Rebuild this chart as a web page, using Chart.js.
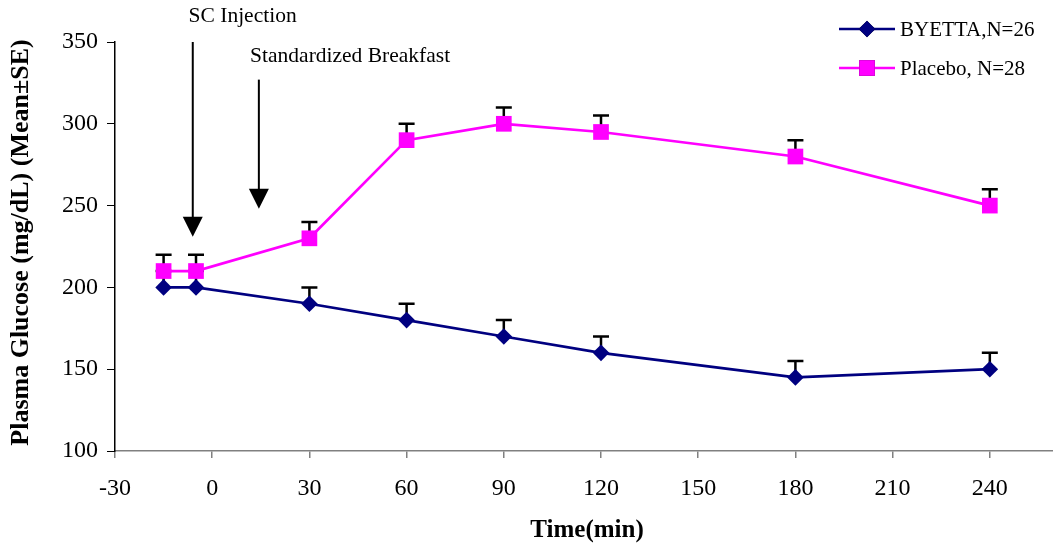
<!DOCTYPE html>
<html>
<head>
<meta charset="utf-8">
<script src="https://cdn.jsdelivr.net/npm/chart.js@4.4.1/dist/chart.umd.min.js"></script>
<style>
  html, body { margin: 0; padding: 0; background: #fff; overflow: hidden; }
  #wrap { width: 1053px; height: 546px; position: relative; }
</style>
</head>
<body>
<div id="wrap"><canvas id="chart"></canvas></div>
<script>
// Datos
const times = [-15, -5, 30, 60, 90, 120, 180, 240];
const byettaMean = [200, 200, 190, 180, 170, 160, 145, 150];
const byettaSE = [10, 10, 10, 10, 10, 10, 10, 10];
const placeboMean = [210, 210, 230, 290, 300, 295, 280, 250];
const placeboSE = [10, 10, 10, 10, 10, 10, 10, 10];
const xTicks = [-30, 0, 30, 60, 90, 120, 150, 180, 210, 240];
const yTicks = [100, 150, 200, 250, 300, 350];
const seriesLabels = ['BYETTA,N=26', 'Placebo, N=28'];

// Anotaciones (en unidades de los ejes)
const injection = { text: 'SC Injection', x: -6, yFrom: 350, yTo: 231, textX: -7.3, textY: 365.5 };
const breakfast = { text: 'Standardized Breakfast', x: 14.4, yFrom: 327, yTo: 248, textX: 11.7, textY: 341 };

const FONT = '"Liberation Serif", "Times New Roman", serif';

function toPoints(xs, ys) {
  return xs.map((x, i) => ({ x: x, y: ys[i] }));
}

// Barras de error (solo hacia arriba) y flechas
const extrasPlugin = {
  id: 'extras',
  beforeDatasetsDraw(chart) {
    const { ctx, scales: { x, y } } = chart;
    const sets = [[byettaMean, byettaSE], [placeboMean, placeboSE]];
    ctx.save();
    ctx.strokeStyle = '#000';
    ctx.lineWidth = 2.5;
    sets.forEach(([means, ses]) => {
      times.forEach((t, i) => {
        const px = x.getPixelForValue(t);
        const y0 = y.getPixelForValue(means[i]);
        const y1 = y.getPixelForValue(means[i] + ses[i]);
        ctx.beginPath();
        ctx.moveTo(px, y0);
        ctx.lineTo(px, y1);
        ctx.moveTo(px - 8, y1);
        ctx.lineTo(px + 8, y1);
        ctx.stroke();
      });
    });
    ctx.restore();
  },
  afterDraw(chart) {
    const { ctx, scales: { x, y }, chartArea } = chart;
    ctx.save();
    // flechas
    [injection, breakfast].forEach(a => {
      const px = x.getPixelForValue(a.x);
      const top = y.getPixelForValue(a.yFrom);
      const tip = y.getPixelForValue(a.yTo);
      ctx.strokeStyle = '#000';
      ctx.fillStyle = '#000';
      ctx.lineWidth = 2;
      ctx.beginPath();
      ctx.moveTo(px, top);
      ctx.lineTo(px, tip - 18);
      ctx.stroke();
      ctx.beginPath();
      ctx.moveTo(px - 10, tip - 20);
      ctx.lineTo(px + 10, tip - 20);
      ctx.lineTo(px, tip);
      ctx.closePath();
      ctx.fill();
      ctx.font = '21.5px ' + FONT;
      ctx.textAlign = 'left';
      ctx.textBaseline = 'middle';
      ctx.fillText(a.text, x.getPixelForValue(a.textX), y.getPixelForValue(a.textY));
    });

    // leyenda
    const ds = chart.data.datasets;
    ds.forEach((d, i) => {
      const ly = 29 + i * 39;
      ctx.strokeStyle = d.borderColor;
      ctx.lineWidth = 2.5;
      ctx.beginPath();
      ctx.moveTo(839, ly);
      ctx.lineTo(895, ly);
      ctx.stroke();
      Chart.helpers.drawPoint(ctx, {
        pointStyle: d.pointStyle, radius: d.pointRadius, borderWidth: 0
      }, 867, ly);
      ctx.fillStyle = d.backgroundColor;
      ctx.fill();
      ctx.fillStyle = '#000';
      ctx.font = '21px ' + FONT;
      ctx.textAlign = 'left';
      ctx.textBaseline = 'middle';
      ctx.fillText(d.label, 900, ly + 1);
    });

    // títulos de ejes
    ctx.fillStyle = '#000';
    ctx.textAlign = 'center';
    ctx.textBaseline = 'middle';
    ctx.font = 'bold 25px ' + FONT;
    ctx.fillText('Time(min)', (chartArea.left + chartArea.right) / 2 + 3, 531);
    ctx.font = 'bold 26px ' + FONT;
    ctx.translate(21, (chartArea.top + chartArea.bottom) / 2 - 4);
    ctx.rotate(-Math.PI / 2);
    ctx.fillText('Plasma Glucose (mg/dL) (Mean\u00B1SE)', 0, 0);
    ctx.restore();
  }
};

const chart = new Chart(document.getElementById('chart'), {
  type: 'line',
  data: {
    datasets: [{
      label: seriesLabels[0],
      data: toPoints(times, byettaMean),
      borderColor: '#000080',
      backgroundColor: '#000080',
      borderWidth: 2.7,
      pointStyle: 'rectRot',
      pointRadius: 8.3,
      pointBorderWidth: 0,
      pointHoverRadius: 8.3,
      tension: 0
    }, {
      label: seriesLabels[1],
      data: toPoints(times, placeboMean),
      borderColor: '#FF00FF',
      backgroundColor: '#FF00FF',
      borderWidth: 2.7,
      pointStyle: 'rect',
      pointRadius: 11.1,
      pointBorderWidth: 0,
      pointHoverRadius: 11.1,
      tension: 0
    }]
  },
  options: {
    responsive: true,
    maintainAspectRatio: false,
    animation: false,
    layout: { autoPadding: false, padding: { top: 42, right: 0, left: 0, bottom: 0 } },
    plugins: {
      legend: { display: false },
      tooltip: { enabled: false }
    },
    scales: {
      x: {
        type: 'linear',
        min: -30,
        max: 259.5,
        afterFit(scale) {
          scale.height = 95;
          scale.paddingLeft = 0;
          scale.paddingRight = 0;
        },
        afterBuildTicks(scale) { scale.ticks = xTicks.map(v => ({ value: v })); },
        ticks: {
          color: '#000',
          font: { family: FONT, size: 24 },
          padding: 16,
          maxRotation: 0
        },
        grid: { drawOnChartArea: false, color: '#808080', tickLength: 7, lineWidth: 1.5 },
        border: { color: '#808080', width: 1.5 }
      },
      y: {
        min: 100,
        max: 350,
        afterFit(scale) {
          scale.width = 115;
          scale.paddingTop = 0;
          scale.paddingBottom = 0;
        },
        afterBuildTicks(scale) { scale.ticks = yTicks.map(v => ({ value: v })); },
        ticks: {
          color: '#000',
          font: { family: FONT, size: 24 },
          padding: 9
        },
        grid: { drawOnChartArea: false, color: '#000', tickLength: 8 },
        border: { color: '#000', width: 1.5 }
      }
    }
  },
  plugins: [extrasPlugin]
});
</script>
</body>
</html>
